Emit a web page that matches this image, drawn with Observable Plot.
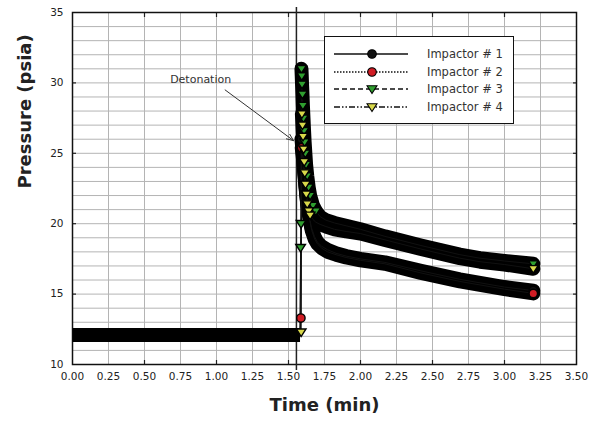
<!DOCTYPE html>
<html><head><meta charset="utf-8">
<script src="https://cdn.jsdelivr.net/npm/d3@7"></script>
<script src="https://cdn.jsdelivr.net/npm/@observablehq/plot@0.6"></script>
<style>
body{margin:0;background:#fff;font-family:"DejaVu Sans",Verdana,sans-serif}
#wrap{position:relative;width:600px;height:427px;background:#fff}
#legend{position:absolute;left:324px;top:36px;width:190px;height:88px;border:1.5px solid #111;background:#fff;box-sizing:border-box}
.row{position:absolute;left:0;height:16px;width:186px}
.row svg{position:absolute;left:7px;top:0}
.row span{position:absolute;left:102px;top:0;font-size:11.5px;line-height:16px;color:#333;white-space:nowrap}
</style></head><body><div id="wrap"></div>
<script>
// ---- data ----
const impactors = ["Impactor # 1", "Impactor # 2", "Impactor # 3", "Impactor # 4"];
const xTicks = [0, 0.25, 0.5, 0.75, 1, 1.25, 1.5, 1.75, 2, 2.25, 2.5, 2.75, 3, 3.25, 3.5];
const yTicks = [10, 15, 20, 25, 30, 35];
const majorXTicks = [0.5, 1, 1.5, 2, 2.5, 3];
const majorYTicks = [15, 20, 25, 30];

// pre-detonation baseline (all impactors coincide)
const baseTime = [0.00, 0.25, 0.50, 0.75, 1.00, 1.25, 1.50, 1.58];
const basePressure = [12.1, 12.1, 12.1, 12.1, 12.1, 12.1, 12.1, 12.1];

const imp1Time = [1.590, 1.600, 1.610, 1.620, 1.630, 1.640, 1.650, 1.660, 1.680, 1.700, 1.730, 1.770, 1.830, 1.900, 2.000, 2.170, 2.420, 2.690, 2.830, 3.000, 3.200];
const imp1Pressure = [26.0, 24.9, 23.7, 22.6, 21.7, 20.9, 20.2, 19.7, 19.1, 18.7, 18.4, 18.15, 17.9, 17.7, 17.5, 17.25, 16.65, 16.05, 15.8, 15.5, 15.25];

const imp2Time = [1.586, 1.592, 1.602, 1.612, 1.622, 1.632, 1.642, 1.652, 1.662, 1.682, 1.702, 1.732, 1.772, 1.830, 1.900, 2.000, 2.170, 2.420, 2.690, 2.830, 3.000, 3.200];
const imp2Pressure = [13.3, 25.4, 24.5, 23.3, 22.2, 21.3, 20.6, 20.0, 19.5, 18.9, 18.55, 18.25, 18.0, 17.8, 17.6, 17.4, 17.15, 16.5, 15.9, 15.65, 15.35, 15.05];

const imp3Time = [1.584, 1.587, 1.590, 1.592, 1.594, 1.597, 1.600, 1.604, 1.608, 1.612, 1.617, 1.622, 1.630, 1.640, 1.650, 1.670, 1.690, 1.720, 1.760, 1.820, 1.900, 2.000, 2.170, 2.420, 2.690, 2.830, 3.000, 3.200];
const imp3Pressure = [18.3, 20.0, 31.0, 30.5, 29.9, 29.2, 28.4, 27.5, 26.6, 25.8, 25.0, 24.2, 23.4, 22.6, 22.0, 21.3, 20.9, 20.5, 20.25, 20.05, 19.85, 19.6, 19.1, 18.45, 17.8, 17.55, 17.35, 17.15];

const imp4Time = [1.588, 1.593, 1.597, 1.601, 1.605, 1.609, 1.613, 1.618, 1.623, 1.630, 1.640, 1.650, 1.670, 1.690, 1.720, 1.760, 1.820, 1.900, 2.000, 2.170, 2.420, 2.690, 2.830, 3.000, 3.200];
const imp4Pressure = [12.3, 27.8, 27.0, 26.2, 25.3, 24.4, 23.6, 22.8, 22.1, 21.4, 20.9, 20.6, 20.3, 20.1, 19.95, 19.8, 19.6, 19.45, 19.3, 18.85, 18.2, 17.55, 17.3, 17.1, 16.8];

const detonationTime = [1.555];
const noteLabel = ["Detonation"];
const noteTime = [0.89], notePressure = [30.25];
const arrowFrom = [1.06, 29.5], arrowTo = [1.535, 25.9];

// ---- styles ----
const fills = ["#111111", "#d01c24", "#2f9e2f", "#d8d84a"];
const dashes = [null, "1.5,1.5", "5,3", "6,2,1.5,2,1.5,2"];
const isTri = [false, false, true, true];
const markerUntil = [0, 0, 1.70, 1.66]; // where individual markers stay visible

const triDown = {
  draw(ctx, size) {
    const r = Math.sqrt(size / Math.PI);
    ctx.moveTo(0, r * 1.05);
    ctx.lineTo(-r * 1.15, -r * 0.75);
    ctx.lineTo(r * 1.15, -r * 0.75);
    ctx.closePath();
  }
};

const times = [imp1Time, imp2Time, imp3Time, imp4Time];
const pressures = [imp1Pressure, imp2Pressure, imp3Pressure, imp4Pressure];

const base = baseTime.map((t, i) => ({t, p: basePressure[i]}));
const series = impactors.map((name, k) => {
  const pts = times[k].map((t, i) => ({t, p: pressures[k][i], k, name, last: i === times[k].length - 1}));
  const peak = d3.maxIndex(pts, d => d.p);
  return {
    all: [{t: baseTime[baseTime.length - 1], p: basePressure[basePressure.length - 1], k}, ...pts],
    decay: pts.slice(peak),
    marks: pts.filter((d, i) => i <= peak || d.t < markerUntil[k] || d.last)
  };
});

const bandMarks = [
  Plot.line(base, {x: "t", y: "p", stroke: "#000", strokeWidth: 14, strokeLinecap: "butt", clip: true}),
  ...series.map(s => Plot.line(s.decay, {x: "t", y: "p", stroke: "#000", strokeWidth: 14, strokeLinejoin: "round", strokeLinecap: "round"}))
];
const thinMarks = series.map(s => Plot.line(s.all, {x: "t", y: "p", stroke: "#111", strokeWidth: 1}));
const dotMarks = series.map((s, k) => Plot.dot(s.marks, {
  x: "t", y: "p", r: 4.2, symbol: isTri[k] ? triDown : "circle",
  fill: fills[k], stroke: "#000", strokeWidth: 1.4
}));

const chart = Plot.plot({
  width: 600, height: 427,
  marginLeft: 72, marginRight: 24, marginTop: 12, marginBottom: 63,
  style: {background: "#fff", fontFamily: "'DejaVu Sans', Verdana, sans-serif", color: "#222"},
  x: {domain: [0, 3.5], label: null},
  y: {domain: [10, 35], label: null},
  marks: [
    Plot.gridX(xTicks, {stroke: "#b4b4b4", strokeOpacity: 1, strokeWidth: 1}),
    Plot.gridY(d3.range(10, 36, 1), {stroke: "#b4b4b4", strokeOpacity: 1, strokeWidth: 1}),
    Plot.axisX({ticks: xTicks, tickFormat: d => d.toFixed(2), tickSize: 0, tickPadding: 8, fontSize: 10.5, label: null}),
    Plot.axisY({ticks: yTicks, tickSize: 0, tickPadding: 9, fontSize: 10.5, label: null}),
    Plot.axisX({anchor: "bottom", ticks: majorXTicks, tickSize: 4, dy: -4, tickFormat: () => "", label: null, strokeWidth: 1.2}),
    Plot.axisX({anchor: "top", ticks: majorXTicks, tickSize: 4, dy: 4, tickFormat: () => "", label: null, strokeWidth: 1.2}),
    Plot.axisY({anchor: "left", ticks: majorYTicks, tickSize: 4, dx: 4, tickFormat: () => "", label: null, strokeWidth: 1.2}),
    Plot.axisY({anchor: "right", ticks: majorYTicks, tickSize: 4, dx: -4, tickFormat: () => "", label: null, strokeWidth: 1.2}),
    Plot.frame({stroke: "#111", strokeWidth: 1.5}),
    Plot.ruleX(detonationTime, {stroke: "#222", strokeWidth: 1.5, insetTop: -5, insetBottom: -6}),
    ...bandMarks,
    ...thinMarks,
    ...dotMarks,
    Plot.text(noteLabel, {x: noteTime, y: notePressure, fontSize: 11, fill: "#333"}),
    Plot.arrow([0], {x1: arrowFrom[0], y1: arrowFrom[1], x2: arrowTo[0], y2: arrowTo[1], stroke: "#333", strokeWidth: 1, headLength: 11, headAngle: 45}),
    Plot.text(["Time (min)"], {frameAnchor: "bottom", dy: 46, fontSize: 18, fontWeight: "bold", fill: "#222"}),
    Plot.text(["Pressure (psia)"], {frameAnchor: "left", dx: -47, rotate: -90, fontSize: 18, fontWeight: "bold", fill: "#222"})
  ]
});

const wrap = document.getElementById("wrap");
wrap.appendChild(chart);

// legend overlay
const legend = d3.select(wrap).append("div").attr("id", "legend");
const rowTops = [9, 27, 44, 62];
impactors.forEach((name, k) => {
  const row = legend.append("div").attr("class", "row").style("top", rowTops[k] + "px");
  const svg = row.append("svg").attr("width", 80).attr("height", 16);
  svg.append("line").attr("x1", 2).attr("x2", 76).attr("y1", 8).attr("y2", 8)
    .attr("stroke", "#111").attr("stroke-width", 1.5).attr("stroke-dasharray", dashes[k]);
  svg.append("path").attr("transform", "translate(40,8)")
    .attr("d", isTri[k] ? d3.symbol(triDown, Math.PI * 4.3 * 4.3)() : d3.symbol(d3.symbolCircle, Math.PI * 4.3 * 4.3)())
    .attr("fill", fills[k]).attr("stroke", "#000").attr("stroke-width", 1.1);
  row.append("span").text(name);
});
</script>
</body></html>
